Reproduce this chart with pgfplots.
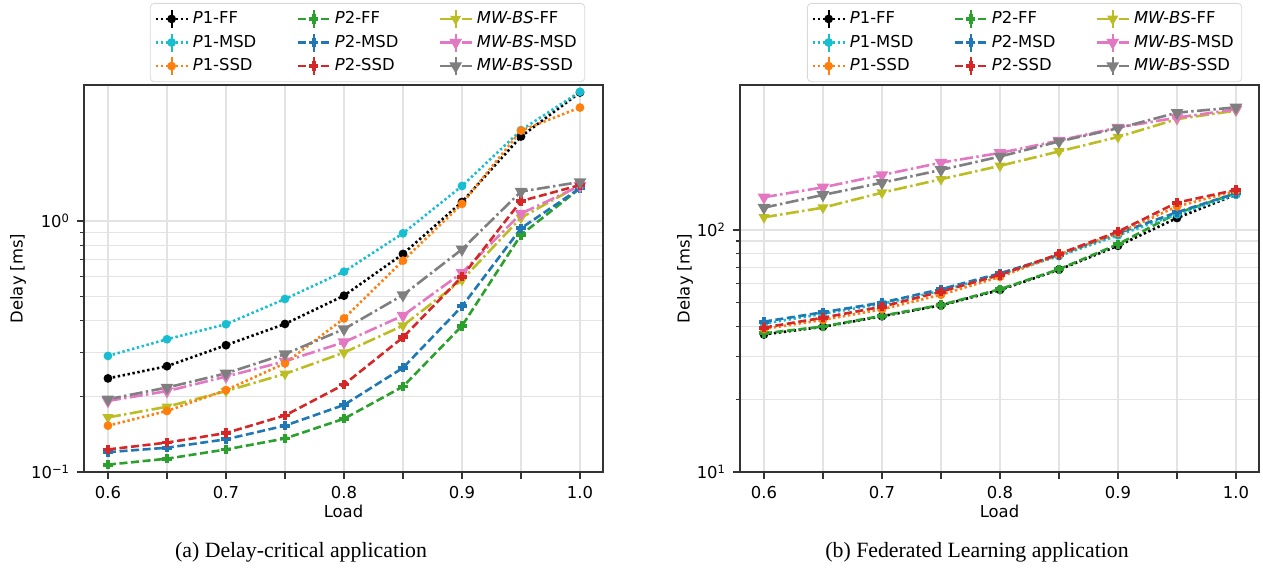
\documentclass[border=0pt]{standalone}
\usepackage{fontspec}
\setmainfont{DejaVu Sans}
\newfontfamily\capfont{Liberation Serif}
\usepackage{pgfplots}
\pgfplotsset{compat=1.18}

\definecolor{tabblue}{HTML}{1F77B4}
\definecolor{taborange}{HTML}{FF7F0E}
\definecolor{tabgreen}{HTML}{2CA02C}
\definecolor{tabred}{HTML}{D62728}
\definecolor{tabpink}{HTML}{E377C2}
\definecolor{tabgray}{HTML}{7F7F7F}
\definecolor{tabolive}{HTML}{BCBD22}
\definecolor{tabcyan}{HTML}{17BECF}

\newcommand{\lblfont}{\fontsize{8.2}{9.8}\selectfont}

\pgfplotsset{
  scale only axis, width=259.5pt, height=193.5pt,
  xmin=0.5797, xmax=1.0195,
  xtick={0.6,0.65,0.7,0.75,0.8,0.85,0.9,0.95,1.0},
  xticklabels={0.6,,0.7,,0.8,,0.9,,1.0},
  xmajorgrids, ymajorgrids, yminorgrids,
  major grid style={gray!22, line width=0.6pt},
  minor grid style={gray!22, line width=0.6pt},
  axis line style={black!80, line width=0.7pt},
  tick style={black!80, line width=0.6pt},
  tick align=outside, tick pos=left,
  major tick length=3.5pt, minor tick length=2pt,
  tick label style={font=\lblfont},
  label style={font=\lblfont},
  xlabel={Load}, ylabel={Delay [ms]},
  x label style={at={(axis description cs:0.5,-0.103)}, anchor=center},
  legend columns=3,
  legend cell align=left,
  legend style={anchor=north west, draw=gray!30, rounded corners=2pt,
    fill=white, font=\lblfont, inner sep=2pt,
    /tikz/every even column/.append style={column sep=18pt},
    row sep=0.2pt},
  legend image code/.code={
    \draw[#1, mark=none] (0pt,0pt) -- (16pt,0pt);
    \draw[#1, solid, mark=none, line width=0.9pt] (8pt,-4.5pt) -- (8pt,4.5pt);
    \draw[#1, only marks] plot coordinates {(8pt,0pt)};
  },
  pone/.style={line width=1.3pt, dash pattern=on 1.2pt off 1.3pt,
    mark=*, mark size=1.5pt, mark options={solid}},
  ptwo/.style={line width=1.3pt, dash pattern=on 4pt off 1.8pt,
    mark=+, mark size=2.3pt, mark options={solid, line width=1.9pt}},
  pmw/.style={line width=1.3pt, dash pattern=on 6.5pt off 1.7pt on 1.2pt off 1.7pt,
    mark=triangle*, mark size=2.4pt, mark options={solid, rotate=180}},
}

\begin{document}
\begin{tikzpicture}
\path (0,0) rectangle (631.5pt,-285pt);

% (a) delay-critical
\begin{semilogyaxis}[at={(42pt,-42.5pt)}, anchor=north west,
  ymin=0.1, ymax=3.48, ytick={0.1,1},
  yticklabels={10\textsuperscript{−1},10\textsuperscript{0}},
  y label style={at={(axis description cs:-0.127,0.5)}, anchor=center},
  legend style={at={(0.127,1.212)}}]
\addplot[pone, black] coordinates {(0.6,0.236)(0.65,0.264)(0.7,0.32)(0.75,0.389)(0.8,0.504)(0.85,0.739)(0.9,1.19)(0.95,2.17)(1.0,3.25)};
\addlegendentry{\textit{P}1-FF}
\addplot[ptwo, tabgreen] coordinates {(0.6,0.107)(0.65,0.113)(0.7,0.123)(0.75,0.136)(0.8,0.163)(0.85,0.219)(0.9,0.382)(0.95,0.88)(1.0,1.35)};
\addlegendentry{\textit{P}2-FF}
\addplot[pmw, tabolive, mark size=1.9pt] coordinates {(0.6,0.165)(0.65,0.182)(0.7,0.21)(0.75,0.246)(0.8,0.299)(0.85,0.383)(0.9,0.582)(0.95,1.03)(1.0,1.39)};
\addlegendentry{\textit{MW-BS}-FF}
\addplot[pone, tabcyan] coordinates {(0.6,0.29)(0.65,0.338)(0.7,0.388)(0.75,0.489)(0.8,0.628)(0.85,0.893)(0.9,1.378)(0.95,2.30)(1.0,3.27)};
\addlegendentry{\textit{P}1-MSD}
\addplot[ptwo, tabblue] coordinates {(0.6,0.12)(0.65,0.125)(0.7,0.135)(0.75,0.153)(0.8,0.185)(0.85,0.26)(0.9,0.457)(0.95,0.935)(1.0,1.35)};
\addlegendentry{\textit{P}2-MSD}
\addplot[pmw, tabpink] coordinates {(0.6,0.192)(0.65,0.21)(0.7,0.24)(0.75,0.276)(0.8,0.329)(0.85,0.42)(0.9,0.622)(0.95,1.07)(1.0,1.38)};
\addlegendentry{\textit{MW-BS}-MSD}
\addplot[pone, taborange] coordinates {(0.6,0.153)(0.65,0.175)(0.7,0.212)(0.75,0.271)(0.8,0.409)(0.85,0.695)(0.9,1.17)(0.95,2.29)(1.0,2.83)};
\addlegendentry{\textit{P}1-SSD}
\addplot[ptwo, tabred] coordinates {(0.6,0.123)(0.65,0.131)(0.7,0.143)(0.75,0.168)(0.8,0.223)(0.85,0.344)(0.9,0.60)(0.95,1.20)(1.0,1.39)};
\addlegendentry{\textit{P}2-SSD}
\addplot[pmw, tabgray] coordinates {(0.6,0.195)(0.65,0.217)(0.7,0.247)(0.75,0.295)(0.8,0.371)(0.85,0.507)(0.9,0.771)(0.95,1.31)(1.0,1.43)};
\addlegendentry{\textit{MW-BS}-SSD}
\end{semilogyaxis}

% (b) federated learning
\begin{semilogyaxis}[at={(370pt,-42.5pt)}, anchor=north west,
  ymin=10, ymax=397, ytick={10,100},
  yticklabels={10\textsuperscript{1},10\textsuperscript{2}},
  y label style={at={(axis description cs:-0.106,0.5)}, anchor=center},
  legend style={at={(0.129,1.212)}}]
\addplot[pone, black] coordinates {(0.6,37)(0.65,39.8)(0.7,44)(0.75,48.8)(0.8,56.5)(0.85,68.5)(0.9,86)(0.95,112)(1.0,140)};
\addlegendentry{\textit{P}1-FF}
\addplot[ptwo, tabgreen] coordinates {(0.6,37.4)(0.65,39.9)(0.7,44.2)(0.75,49)(0.8,56.9)(0.85,68.8)(0.9,87.3)(0.95,117.2)(1.0,141.8)};
\addlegendentry{\textit{P}2-FF}
\addplot[pmw, tabolive, mark size=1.9pt] coordinates {(0.6,112.8)(0.65,123.6)(0.7,142.6)(0.75,162)(0.8,184)(0.85,211)(0.9,242)(0.95,287)(1.0,311)};
\addlegendentry{\textit{MW-BS}-FF}
\addplot[pone, tabcyan] coordinates {(0.6,41)(0.65,45)(0.7,49.5)(0.75,56)(0.8,65.5)(0.85,78)(0.9,95)(0.95,116)(1.0,140)};
\addlegendentry{\textit{P}1-MSD}
\addplot[ptwo, tabblue] coordinates {(0.6,41.8)(0.65,45.7)(0.7,50.1)(0.75,56.9)(0.8,66.2)(0.85,78.8)(0.9,96.9)(0.95,118.3)(1.0,141.8)};
\addlegendentry{\textit{P}2-MSD}
\addplot[pmw, tabpink] coordinates {(0.6,136.5)(0.65,150)(0.7,168.6)(0.75,189.7)(0.8,208)(0.85,234)(0.9,265)(0.95,291)(1.0,315)};
\addlegendentry{\textit{MW-BS}-MSD}
\addplot[pone, taborange] coordinates {(0.6,39)(0.65,42.5)(0.7,47)(0.75,54)(0.8,64)(0.85,79)(0.9,97)(0.95,125)(1.0,145)};
\addlegendentry{\textit{P}1-SSD}
\addplot[ptwo, tabred] coordinates {(0.6,39.5)(0.65,43.4)(0.7,48.2)(0.75,55.6)(0.8,65.2)(0.85,79.6)(0.9,98.4)(0.95,129.7)(1.0,146.3)};
\addlegendentry{\textit{P}2-SSD}
\addplot[pmw, tabgray] coordinates {(0.6,123.6)(0.65,139.5)(0.7,156.7)(0.75,177)(0.8,201)(0.85,232)(0.9,263)(0.95,305)(1.0,321)};
\addlegendentry{\textit{MW-BS}-SSD}
\end{semilogyaxis}

\node[font=\capfont\fontsize{10.9}{13}\selectfont] at (150.5pt,-276pt) {(a) Delay-critical application};
\node[font=\capfont\fontsize{10.9}{13}\selectfont] at (488.5pt,-276pt) {(b) Federated Learning application};
\end{tikzpicture}
\end{document}
